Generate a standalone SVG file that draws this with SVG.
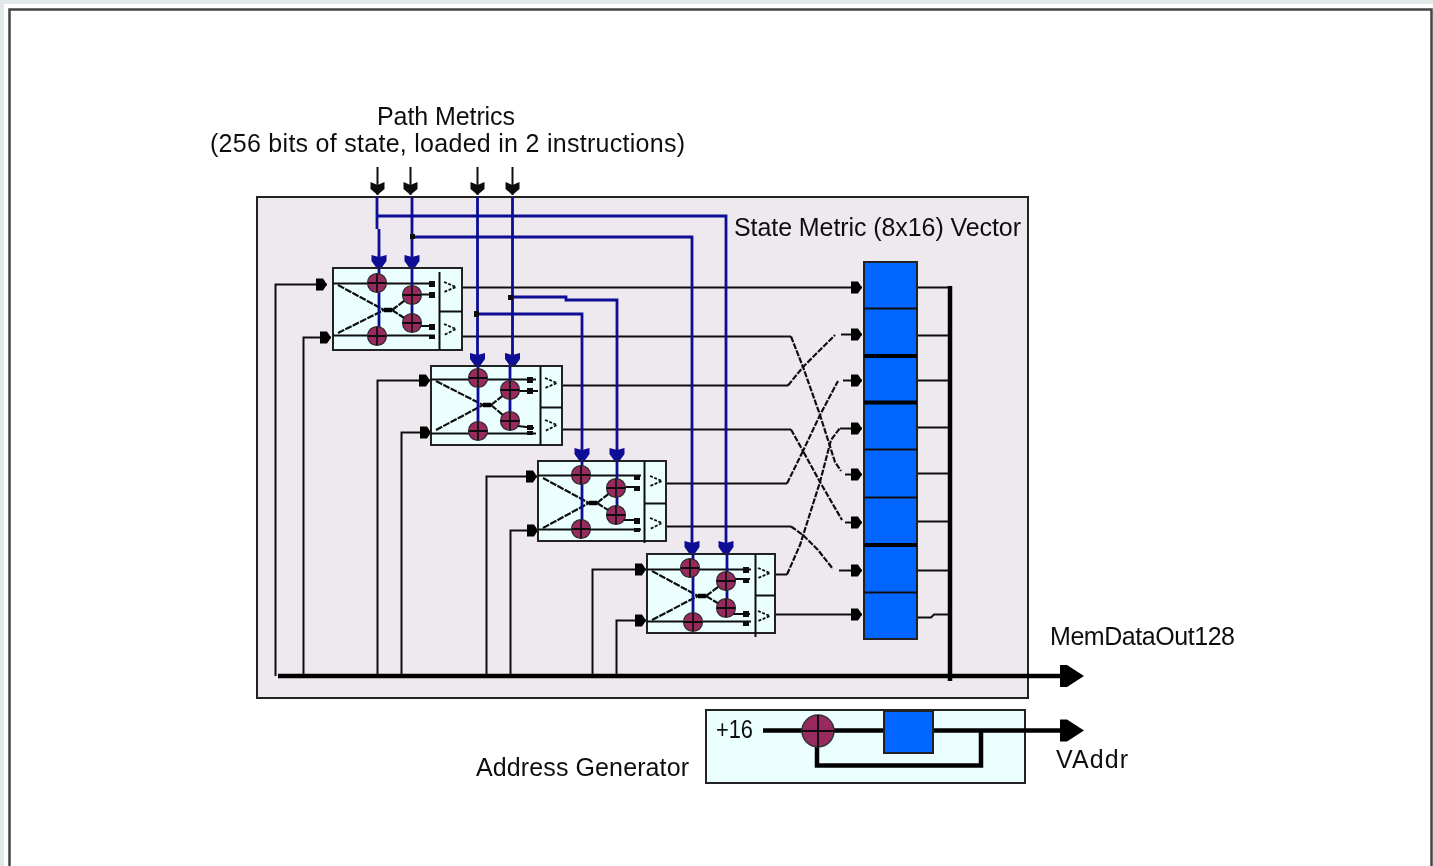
<svg xmlns="http://www.w3.org/2000/svg" width="1433" height="866" viewBox="0 0 1433 866">
<style>
text{font-family:"Liberation Sans",Arial,sans-serif;font-size:25px;fill:#111}
.w{fill:none;stroke:#111;stroke-width:2}
.d{fill:none;stroke:#111;stroke-width:2.200;stroke-dasharray:6 1.500}
.x{fill:none;stroke:#111;stroke-width:2.200;stroke-dasharray:7 1.200}
.c{fill:none;stroke:#111;stroke-width:1.800;stroke-dasharray:3 1.500}
.t{fill:none;stroke:#000;stroke-width:4.500}
.b{fill:none;stroke:#0a0a96;stroke-width:2.800}
.box{fill:#ecffff;stroke:#222;stroke-width:2}
.reg{fill:#0066ff;stroke:#222;stroke-width:2}
.sep{stroke:#111;stroke-width:2}
.sept{stroke:#000;stroke-width:4}
.k{fill:#111}
</style>
<defs>
<filter id="soft" x="0" y="0" width="100%" height="100%"><feGaussianBlur stdDeviation="0.55"/></filter>
<marker id="a" markerUnits="userSpaceOnUse" markerWidth="16" markerHeight="16" refX="14" refY="8" orient="auto"><path d="M3 2H10L14 8L10 14H3Z" fill="#000"/></marker>
<marker id="at" markerUnits="userSpaceOnUse" markerWidth="18" markerHeight="18" refX="14" refY="9" orient="auto"><path d="M1 2L6 2H8L14 9L8 16H6L1 16L4 9Z" fill="#111"/></marker>
<marker id="ab" markerUnits="userSpaceOnUse" markerWidth="18" markerHeight="18" refX="13" refY="9" orient="auto"><path d="M0 1.500H6L13 6.500V11.500L6 16.500H0L2 9Z" fill="#0a0a96"/></marker>
<marker id="aB" markerUnits="userSpaceOnUse" markerWidth="26" markerHeight="26" refX="19" refY="13" orient="auto"><path d="M1 2H8L25 13L8 24H1Z" fill="#000"/></marker>
<g id="add"><circle r="9.500" fill="#982c60" stroke="#2a2a2a" stroke-width="1.200"/><path d="M-9 0H9M0-9V9" stroke="#111" stroke-width="1.800"/></g>
</defs>
<g filter="url(#soft)">
<rect width="1433" height="866" fill="#fff"/>
<path d="M0 0H1433V4H4V866H0Z" fill="#e0e8ea"/>
<path d="M9.500 866V9.500H1431.500V866" fill="none" stroke="#444" stroke-width="2.500"/>
<g id="panel"><rect x="257" y="197" width="771" height="501" fill="#eee9ee" stroke="#222" stroke-width="2"/></g>

<g id="connectors">
<path class="w" d="M377.500 167V195" marker-end="url(#at)"/>
<path class="w" d="M410.500 167V195" marker-end="url(#at)"/>
<path class="w" d="M477.500 167V195" marker-end="url(#at)"/>
<path class="w" d="M512.500 167V195" marker-end="url(#at)"/>
<path class="w" d="M275.500 676V284.500H327" marker-end="url(#a)"/>
<path class="w" d="M303.500 676V337.500H331" marker-end="url(#a)"/>
<path class="w" d="M377.500 676V380.500H430" marker-end="url(#a)"/>
<path class="w" d="M401.500 676V432.500H431" marker-end="url(#a)"/>
<path class="w" d="M486.500 676V476.500H537" marker-end="url(#a)"/>
<path class="w" d="M510.500 676V530.500H538" marker-end="url(#a)"/>
<path class="w" d="M592.500 676V569.500H646" marker-end="url(#a)"/>
<path class="w" d="M616.500 676V620.500H646" marker-end="url(#a)"/>
<path class="w" d="M462 287.500H862" marker-end="url(#a)"/>
<path class="w" d="M462 336.500H791"/><path class="d" d="M791 336.500L803 367L820 415L835 462L841 471"/>
<path class="w" d="M845 474.500H862" marker-end="url(#a)"/>
<path class="w" d="M562 385.500H788"/><path class="d" d="M788 385.500L803 367L835 335"/>
<path class="w" d="M841 334.500H862" marker-end="url(#a)"/>
<path class="w" d="M562 429.500H791"/><path class="d" d="M791 429.500L803 451L820 415L838 381"/>
<path class="w" d="M843 380.500H862" marker-end="url(#a)"/>
<path class="w" d="M666 483.500H787"/><path class="d" d="M787 483.500L803 451L820 482L842 520"/>
<path class="w" d="M845 522.500H862" marker-end="url(#a)"/>
<path class="w" d="M666 526.500H791"/><path class="d" d="M791 526.500L803 535L818 550L833 569"/>
<path class="w" d="M839 570.500H862" marker-end="url(#a)"/>
<path class="w" d="M775 574.500H787"/><path class="d" d="M787 574.500L800 545L820 482L831 440L840 428"/>
<path class="w" d="M840 428.500H862" marker-end="url(#a)"/>
<path class="w" d="M775 614.500H862" marker-end="url(#a)"/>
<path class="w" d="M917 287.500H950M917 335.500H950M917 380.500H950M917 427.500H950M917 473.500H950M917 521.500H950M917 570.500H950M917 617.500H931L934 614.500H950"/>
<path class="t" d="M950 286V681"/>
<path class="t" d="M278 676H1078" marker-end="url(#aB)"/>
<path class="b" d="M377 197V229M379 229V268" marker-end="url(#ab)"/>
<path class="b" d="M412 197V268" marker-end="url(#ab)"/>
<path class="b" d="M377 216H726V554" marker-end="url(#ab)"/>
<path class="b" d="M412 237H692V554" marker-end="url(#ab)"/>
<path class="b" d="M477.500 197V366" marker-end="url(#ab)"/>
<path class="b" d="M512.500 197V366" marker-end="url(#ab)"/>
<path class="b" d="M476 314H582V461" marker-end="url(#ab)"/>
<path class="b" d="M510 297H566V300H617V461" marker-end="url(#ab)"/>
<rect class="k" x="474" y="311" width="5" height="6"/><rect class="k" x="508" y="295" width="5" height="5"/><rect class="k" x="410" y="234" width="5" height="5"/>
</g>

<g id="block1"><rect class="box" x="333" y="268" width="129" height="82"/>
<path class="sep" d="M439.500 272V350M439.500 311.500H462"/>
<path class="w" d="M333 283.500H435M333 335.500H435M412 294.500H434M412 326H434"/>
<path class="x" d="M338 285L384 310M392 310L412 323M338 333L384 310M392 310L412 295"/><path class="t" d="M384 310H392"/>
<path class="b" d="M379 268V336M412 268V323"/>
<use href="#add" x="377" y="283"/><use href="#add" x="412" y="295"/><use href="#add" x="412" y="323"/><use href="#add" x="377" y="336"/>
<path class="c" d="M444 282L456 287L444 292M444 324L456 329L444 335"/><rect class="k" x="429" y="281" width="6" height="6"/><rect class="k" x="429" y="292" width="6" height="6"/><rect class="k" x="429" y="324" width="6" height="6"/><rect class="k" x="429" y="335" width="6" height="4"/></g>

<g id="block2"><rect class="box" x="431" y="366" width="131" height="79"/>
<path class="sep" d="M540.500 366V445M540.500 407.500H562"/>
<path class="w" d="M431 379.500H536M431 433.500H536M510 391H538M510 425L534 428"/>
<path class="x" d="M436 381L483 405M491 405L510 421M436 430L483 405M491 405L510 390"/><path class="t" d="M483 405H491"/>
<path class="b" d="M478 366V431M510 366V421"/>
<use href="#add" x="478" y="378"/><use href="#add" x="510" y="390"/><use href="#add" x="510" y="421"/><use href="#add" x="478" y="431"/>
<path class="c" d="M545 378L557 383L545 388M545 420L557 425L545 431"/><rect class="k" x="527" y="377" width="6" height="6"/><rect class="k" x="527" y="388" width="6" height="6"/><rect class="k" x="527" y="425" width="6" height="5"/><rect class="k" x="527" y="431" width="6" height="4"/></g>

<g id="block3"><rect class="box" x="538" y="461" width="128" height="80"/>
<path class="sep" d="M644.500 461V543M644.500 503.500H666"/>
<path class="w" d="M538 475.500H641M538 529.500H641M616 487H640M616 520H640"/>
<path class="x" d="M543 478L589 503M597 503L616 515M543 528L589 503M597 503L616 488"/><path class="t" d="M589 503H597"/>
<path class="b" d="M582 461V529M617 461V515"/>
<use href="#add" x="581" y="475"/><use href="#add" x="616" y="488"/><use href="#add" x="616" y="515"/><use href="#add" x="581" y="529"/>
<path class="c" d="M650 476L662 481L650 486M650 518L662 523L650 529"/><rect class="k" x="634" y="475" width="6" height="5"/><rect class="k" x="634" y="486" width="6" height="5"/><rect class="k" x="634" y="518" width="6" height="6"/><rect class="k" x="634" y="528" width="6" height="4"/></g>

<g id="block4"><rect class="box" x="647" y="554" width="128" height="79"/>
<path class="sep" d="M755.500 554V637M755.500 595.500H775"/>
<path class="w" d="M647 569.500H751M647 621.500H751M726 579H750M726 614H750"/>
<path class="x" d="M652 571L698 596M706 596L726 608M652 620L698 596M706 596L726 581"/><path class="t" d="M698 596H706"/>
<path class="b" d="M693 554V622M727 554V608"/>
<use href="#add" x="690" y="568"/><use href="#add" x="726" y="581"/><use href="#add" x="726" y="608"/><use href="#add" x="693" y="622"/>
<path class="c" d="M758 568L770 573L758 578M758 611L770 616L758 621"/><rect class="k" x="743" y="567" width="6" height="6"/><rect class="k" x="743" y="578" width="6" height="5"/><rect class="k" x="743" y="611" width="6" height="6"/><rect class="k" x="743" y="622" width="6" height="4"/></g>

<g id="register">
<rect class="reg" x="864" y="262" width="53" height="377"/>
<path class="sep" d="M864 308.500H917M864 449.500H917M864 497.500H917M864 592.500H917"/>
<path class="sept" d="M864 356H917M864 402.500H917M864 545H917"/>
</g>

<g id="address-generator">
<rect x="706" y="710" width="319" height="73" fill="#ecffff" stroke="#222" stroke-width="2"/>
<path class="t" d="M763 730.500H884"/>
<path class="t" d="M933 730.500H1078" marker-end="url(#aB)"/>
<path class="t" d="M981 731V765.500H817V745"/>
<rect class="reg" x="884" y="711" width="49" height="42"/>
<g id="address-adder"><circle cx="818" cy="731" r="16" fill="#982c60" stroke="#333" stroke-width="1.500"/><path d="M802 731H834M818 715V747" stroke="#111" stroke-width="2"/></g>
<text x="716" y="738" textLength="37" lengthAdjust="spacingAndGlyphs">+16</text>
</g>

<g id="labels">
<text x="377" y="125" textLength="138" lengthAdjust="spacing">Path Metrics</text>
<text x="210" y="152" textLength="475" lengthAdjust="spacing">(256 bits of state, loaded in 2 instructions)</text>
<text x="734" y="236" textLength="287" lengthAdjust="spacing">State Metric (8x16) Vector</text>
<text x="1050" y="645" textLength="185" lengthAdjust="spacing">MemDataOut128</text>
<text x="476" y="776" textLength="213" lengthAdjust="spacing">Address Generator</text>
<text x="1056" y="768" textLength="72" lengthAdjust="spacing">VAddr</text>
</g>
</g>
</svg>
